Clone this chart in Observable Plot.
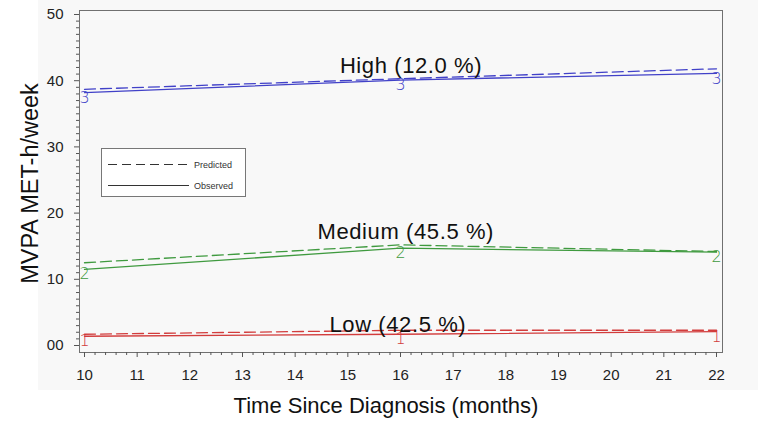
<!DOCTYPE html>
<html>
<head>
<meta charset="utf-8">
<script src="https://cdn.jsdelivr.net/npm/d3@7"></script>
<script src="https://cdn.jsdelivr.net/npm/@observablehq/plot@0.6"></script>
<style>
  html, body { margin: 0; padding: 0; background: #ffffff; }
  #wrap { position: relative; width: 758px; height: 434px; font-family: "Liberation Sans", Arial, sans-serif; }
  #bg { position: absolute; left: 38px; top: 0; width: 720px; height: 390px; background: #f8f8f8; }
  #chart { position: absolute; left: 0; top: 0; }
  #legend { position: absolute; left: 101px; top: 148px; width: 145px; height: 49px; border: 1px solid #777; background: #ffffff; box-sizing: border-box; }
</style>
</head>
<body>
<div id="wrap">
  <div id="bg"></div>
  <div id="chart"></div>
  <div id="legend">
    <svg width="143" height="47">
      <line x1="6" x2="87" y1="15.5" y2="15.5" stroke="#333" stroke-width="1.2" stroke-dasharray="9,5"></line>
      <text x="92" y="18.5" font-size="9" fill="#333" font-family="Liberation Sans, Arial, sans-serif">Predicted</text>
      <line x1="6" x2="87" y1="36.5" y2="36.5" stroke="#333" stroke-width="1.2"></line>
      <text x="92" y="39.5" font-size="9" fill="#333" font-family="Liberation Sans, Arial, sans-serif">Observed</text>
    </svg>
  </div>
</div>
<script>
// Data
const months = [10, 16, 22];
const groups = ["High", "Medium", "Low"];
const groupLabels = ["High (12.0 %)", "Medium (45.5 %)", "Low (42.5 %)"];
const groupSymbols = ["3", "2", "1"];
const predictedHigh = [38.7, 40.3, 41.8];
const observedHigh = [38.2, 40.1, 41.1];
const predictedMedium = [12.5, 15.2, 14.2];
const observedMedium = [11.5, 14.7, 14.1];
const predictedLow = [1.7, 2.3, 2.3];
const observedLow = [1.4, 1.7, 2.1];
const labelMonth = [16.2, 16.1, 15.95];
const labelValue = [42.3, 17.2, 3.1];
const yTicks = [0, 10, 20, 30, 40, 50];
const yTickLabels = ["00", "10", "20", "30", "40", "50"];
const xTicks = d3.range(10, 23, 1);

const colors = {High: "#4141c8", Medium: "#3f9a3f", Low: "#d23c3c"};

const predicted = {High: predictedHigh, Medium: predictedMedium, Low: predictedLow};
const observed = {High: observedHigh, Medium: observedMedium, Low: observedLow};

const predRows = groups.flatMap(g => months.map((m, i) => ({group: g, month: m, value: predicted[g][i]})));
const obsRows = groups.flatMap((g, gi) => months.map((m, i) => ({group: g, month: m, value: observed[g][i], sym: groupSymbols[gi]})));
const labelRows = groups.map((g, i) => ({group: g, text: groupLabels[i], month: labelMonth[i], value: labelValue[i]}));

const xMinor = d3.range(0, 61).map(i => 10 + i * 0.2).filter(v => Math.abs(v - Math.round(v)) > 1e-6);
const yMinor = d3.range(0, 51).filter(v => v % 10 !== 0);

const chart = Plot.plot({
  width: 758,
  height: 434,
  marginLeft: 79,
  marginRight: 36,
  marginTop: 10,
  marginBottom: 82,
  style: {background: "transparent", fontFamily: "Liberation Sans, Arial, sans-serif", color: "#222"},
  x: {domain: [10, 22], insetLeft: 5, insetRight: 6},
  y: {domain: [0, 50], insetTop: 4, insetBottom: 7},
  marks: [
    Plot.frame({stroke: "#707070", strokeWidth: 1}),
    // minor ticks
    Plot.axisX({ticks: xMinor, tickSize: 3, tickFormat: () => "", label: null, stroke: "#555"}),
    Plot.axisY({ticks: yMinor, tickSize: 3, tickFormat: () => "", label: null, stroke: "#555"}),
    // major ticks
    Plot.axisX({ticks: xTicks, tickSize: 5, tickPadding: 12, fontSize: 15, label: null, stroke: "#555", tickFormat: d => String(d)}),
    Plot.axisY({ticks: yTicks, tickSize: 5, tickPadding: 11, fontSize: 15, label: null, stroke: "#555", tickFormat: d => yTickLabels[yTicks.indexOf(d)]}),
    // axis titles
    Plot.text(["Time Since Diagnosis (months)"], {frameAnchor: "bottom", dx: -15, dy: 60, fontSize: 22, fill: "#111"}),
    Plot.text(["MVPA MET-h/week"], {frameAnchor: "left", textAnchor: "middle", dx: -49, dy: 2, rotate: -90, fontSize: 23.5, fill: "#111"}),
    // lines
    Plot.line(predRows, {x: "month", y: "value", z: "group", stroke: d => colors[d.group], strokeWidth: 1.3, strokeDasharray: "11,5"}),
    Plot.line(obsRows, {x: "month", y: "value", z: "group", stroke: d => colors[d.group], strokeWidth: 1.3}),
    Plot.text(obsRows, {x: "month", y: "value", text: "sym", fill: d => colors[d.group], fontSize: 16, dy: 5, fontFamily: "DejaVu Sans", fontWeight: 200}),
    Plot.text(labelRows, {x: "month", y: "value", text: "text", fontSize: 22, fill: "#111"})
  ]
});
d3.select(chart).selectAll("text")
  .filter(function () { return /%\)$/.test(this.textContent); })
  .attr("letter-spacing", "0.6px");
document.getElementById("chart").appendChild(chart);
</script>
</body>
</html>
